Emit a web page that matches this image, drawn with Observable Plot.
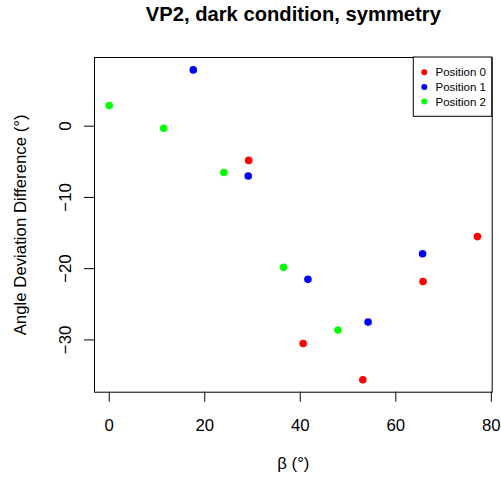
<!DOCTYPE html>
<html>
<head>
<meta charset="utf-8">
<script src="https://cdn.jsdelivr.net/npm/d3@7"></script>
<script src="https://cdn.jsdelivr.net/npm/@observablehq/plot@0.6"></script>
<style>
  html, body { margin: 0; padding: 0; background: #fff; }
  svg { display: block; }
</style>
</head>
<body>
<div id="chart"></div>
<script>
const title = "VP2, dark condition, symmetry";
const xLabel = "β (°)";
const yLabel = "Angle Deviation Difference (°)";
const seriesNames = ["Position 0", "Position 1", "Position 2"];
const seriesColors = ["#FF0000", "#0000FF", "#00FF00"];

const beta0 = [29.2, 40.6, 53.1, 65.7, 77.1];
const diff0 = [-4.8, -30.5, -35.6, -21.8, -15.5];
const beta1 = [17.6, 29.1, 41.6, 54.2, 65.6];
const diff1 = [7.9, -7.0, -21.5, -27.5, -17.9];
const beta2 = [0, 11.4, 24.0, 36.5, 47.9];
const diff2 = [2.9, -0.3, -6.5, -19.8, -28.6];

const xTicks = [0, 20, 40, 60, 80];
const yTicks = [-30, -20, -10, 0];

const data = [];
[[beta0, diff0], [beta1, diff1], [beta2, diff2]].forEach(([bx, dy], s) => {
  bx.forEach((b, i) => data.push({beta: b, diff: dy[i], series: seriesNames[s]}));
});

function pad(ext) { const r = ext[1] - ext[0]; return [ext[0] - 0.04 * r, ext[1] + 0.04 * r]; }
const xDomain = pad(d3.extent(data, d => d.beta));
const yDomain = pad(d3.extent(data, d => d.diff));

const W = 501, H = 478;
const mL = 94, mR = 9.3, mT = 57, mB = 86.3;
const font = "Liberation Sans, Arial, Helvetica, sans-serif";

const plot = Plot.plot({
  width: W, height: H,
  marginLeft: mL, marginRight: mR, marginTop: mT, marginBottom: mB,
  style: {fontFamily: font, color: "black", background: "white"},
  x: {domain: xDomain},
  y: {domain: yDomain},
  color: {domain: seriesNames, range: seriesColors},
  marks: [
    Plot.frame({stroke: "black", strokeWidth: 1}),
    Plot.axisX({ticks: xTicks, tickSize: 10, tickPadding: 17, fontSize: 16.8, label: null, tickFormat: d => String(d)}),
    Plot.axisY({ticks: yTicks, tickSize: 10, tickFormat: () => "", label: null}),
    Plot.text(yTicks, {y: d => d, text: d => String(d).replace("-", "\u2212"), frameAnchor: "left", dx: -29, rotate: -90, textAnchor: "middle", lineAnchor: "middle", fontSize: 16.8, fill: "black"}),
    Plot.dot(data, {x: "beta", y: "diff", fill: "series", r: 3.8, stroke: null}),
    Plot.text([xLabel], {text: d => d, frameAnchor: "bottom", dy: 71.3, lineAnchor: "middle", fontSize: 16.8, fill: "black"}),
    Plot.text([yLabel], {text: d => d, frameAnchor: "left", dx: -74, rotate: -90, textAnchor: "middle", lineAnchor: "middle", fontSize: 16.8, fill: "black"}),
    Plot.text([title], {text: d => d, frameAnchor: "top", dy: -43, lineAnchor: "middle", fontSize: 20.2, fontWeight: "bold", fill: "black"})
  ]
});

// Legend (top-right, boxed)
const svg = d3.select(plot);
const lx0 = 413.3, ly0 = 57, lx1 = W - mR, ly1 = 116.3;
const g = svg.append("g").attr("font-family", font).attr("font-size", 11.5).attr("text-anchor", "start");
g.append("rect").attr("x", lx0).attr("y", ly0).attr("width", lx1 - lx0).attr("height", ly1 - ly0)
  .attr("fill", "white").attr("stroke", "black").attr("stroke-width", 1);
const rowY = [72.3, 86.9, 101.6];
seriesNames.forEach((name, i) => {
  g.append("circle").attr("cx", 424.3).attr("cy", rowY[i]).attr("r", 3).attr("fill", seriesColors[i]);
  g.append("text").attr("x", 435.5).attr("y", rowY[i]).attr("dy", "0.35em").attr("text-anchor", "start").attr("fill", "black").text(name);
});

document.getElementById("chart").appendChild(plot);
</script>
</body>
</html>
